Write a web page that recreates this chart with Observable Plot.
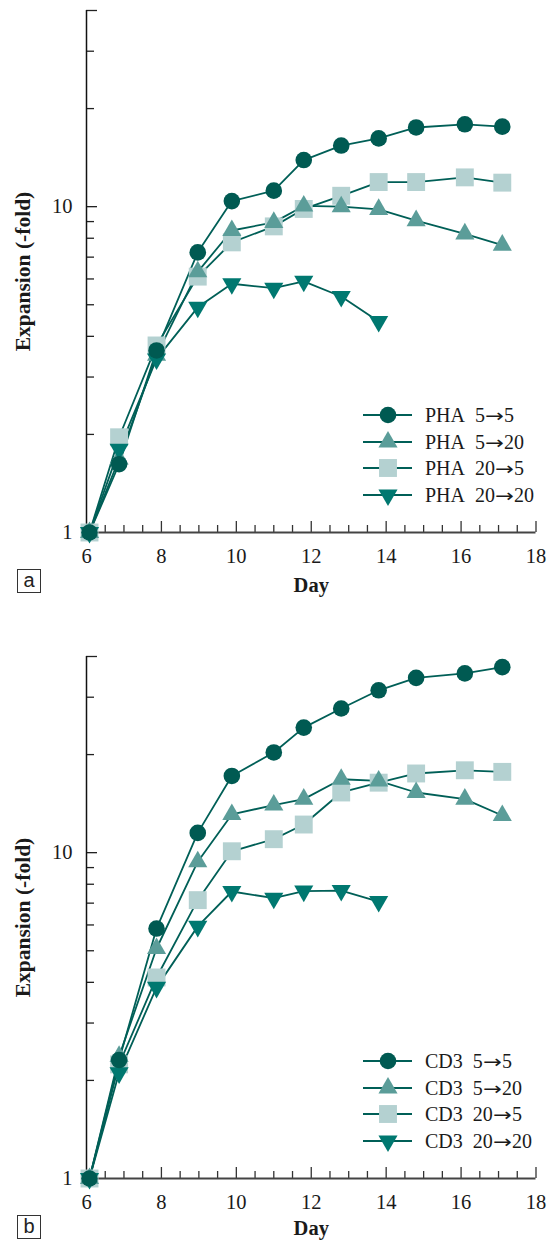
<!DOCTYPE html>
<html>
<head>
<meta charset="utf-8">
<script src="https://cdn.jsdelivr.net/npm/d3@7"></script>
<script src="https://cdn.jsdelivr.net/npm/@observablehq/plot@0.6"></script>
<style>
  html, body { margin: 0; padding: 0; background: #fff; }
  #root { position: relative; width: 547px; height: 1240px; overflow: hidden; font-family: "Liberation Serif", serif; color: #1a1a1a; }
  .panel { position: absolute; left: 0; width: 547px; height: 594px; }
  .panel svg { position: absolute; left: 0; top: 0; }
  .lrow { position: absolute; left: 363px; height: 26px; white-space: pre; }
  .lrow svg { position: absolute; left: 0; top: 0; }
  .lrow span.t { position: absolute; left: 62px; top: 0; line-height: 26px; font-size: 20px; font-family: "Liberation Serif", serif; color: #1a1a1a; }
  .arr { display: inline-block; font-family: "DejaVu Sans", sans-serif; font-size: 18px; transform: scaleX(1.25); margin: 0 2px; }
  .tag { position: absolute; left: 17px; top: 569px; width: 22px; height: 22px; border: 1px solid #333; font-family: "Liberation Sans", sans-serif; font-size: 20px; line-height: 20px; text-align: center; color: #222; box-sizing: content-box; }
</style>
</head>
<body>
<div id="root"></div>
<script>
// ---------- data ----------
const days = [6.08, 6.87, 7.87, 8.97, 9.88, 11.0, 11.8, 12.8, 13.8, 14.8, 16.1, 17.1];

const phaName = "PHA";
const cd3Name = "CD3";
const transitions = [["5", "5"], ["5", "20"], ["20", "5"], ["20", "20"]];

const pha5to5   = [1, 1.62, 3.62, 7.24, 10.4, 11.2, 13.9, 15.4, 16.2, 17.5, 17.9, 17.6];
const pha5to20  = [1, 1.68, 3.5, 6.31, 8.45, 8.95, 10.05, 10.0, 9.81, 9.06, 8.25, 7.62];
const pha20to5  = [1, 1.96, 3.75, 6.1, 7.77, 8.7, 9.84, 10.8, 11.9, 11.9, 12.3, 11.85];
const pha20to20 = [1, 1.8, 3.41, 4.91, 5.8, 5.62, 5.9, 5.3, 4.44];

const cd5to5   = [1, 2.31, 5.85, 11.5, 17.2, 20.3, 24.2, 27.7, 31.5, 34.4, 35.5, 37.1];
const cd5to20  = [1, 2.37, 5.08, 9.38, 13.1, 14.0, 14.6, 16.8, 16.6, 15.3, 14.6, 13.0];
const cd20to5  = [1, 2.24, 4.14, 7.15, 10.1, 11.0, 12.2, 15.3, 16.4, 17.5, 17.9, 17.7];
const cd20to20 = [1, 2.11, 3.86, 5.94, 7.6, 7.25, 7.62, 7.65, 7.08];

const xTickLabels = [6, 8, 10, 12, 14, 16, 18];
const xMinorTicks = d3.range(6.5, 18, 0.5).filter(d => d % 2 !== 0);
const xMajorTicks = [8, 10, 12, 14, 16, 18];
const yTickLabels = [1, 10];
const yMinorTicks = [2, 3, 4, 5, 6, 7, 8, 9, 20, 30];
const yMajorTicks = [10, 40];

// ---------- styles ----------
const FONT = "Liberation Serif";
const colors = ["#005a52", "#5b9d99", "#b4d1d1", "#007870"];
const lineColor = "#005f57";
const triDown = {
  draw(ctx, size) {
    const y = Math.sqrt(size / (Math.sqrt(3) * 3));
    ctx.moveTo(0, y * 2);
    ctx.lineTo(Math.sqrt(3) * y, -y);
    ctx.lineTo(-Math.sqrt(3) * y, -y);
    ctx.closePath();
  }
};
const symbols = ["circle", "triangle", "square", triDown];
const radii = [8.3, 7.1, 10.1, 7.1];
const d3Symbols = [d3.symbolCircle, d3.symbolTriangle, d3.symbolSquare, triDown];
const drawOrder = [2, 1, 3, 0];

const W = 547, H = 594, mL = 86, mR = 11.5, mT = 10, mB = 62;
const innerW = W - mL - mR, innerH = H - mT - mB;

function makePanel(seriesList, name, tag, top, dayDy) {
  const rows = [];
  seriesList.forEach((vals, s) => vals.forEach((v, i) => rows.push({s, day: days[i], v})));

  const marks = [
    Plot.axisX({ticks: xTickLabels, tickSize: 0, tickPadding: 16, tickFormat: d => d, label: null, fontFamily: FONT, fontSize: 20.5}),
    Plot.axisY({ticks: yTickLabels, tickSize: 0, tickPadding: 14, tickFormat: d => d, label: null, fontFamily: FONT, fontSize: 20.5}),
    Plot.tickX(xMinorTicks, {x: d => d, insetTop: innerH - 7, stroke: "#333", strokeWidth: 1.3}),
    Plot.tickX(xMajorTicks, {x: d => d, insetTop: innerH - 11, stroke: "#333", strokeWidth: 1.3}),
    Plot.tickY(yMinorTicks, {y: d => d, insetRight: innerW - 8, stroke: "#222", strokeWidth: 1.3}),
    Plot.tickY(yMajorTicks, {y: d => d, insetRight: innerW - 11, stroke: "#222", strokeWidth: 1.3}),
    Plot.ruleY([1], {stroke: "#444", strokeWidth: 1.8}),
    Plot.ruleX([6], {stroke: "#111", strokeWidth: 1.5}),
    Plot.line(rows, {x: "day", y: "v", z: "s", stroke: lineColor, strokeWidth: 1.8})
  ];
  for (const s of drawOrder) {
    marks.push(Plot.dot(rows.filter(d => d.s === s), {
      x: "day", y: "v", symbol: symbols[s], r: radii[s], fill: colors[s], stroke: "none"
    }));
  }
  marks.push(Plot.text(["Day"], {text: d => d, frameAnchor: "bottom", textAnchor: "middle", dy: dayDy, lineAnchor: "middle", fontWeight: "bold", fontSize: 20.5, fontFamily: FONT}));
  marks.push(Plot.text(["Expansion (-fold)"], {text: d => d, frameAnchor: "left", textAnchor: "middle", dx: -63, rotate: -90, lineAnchor: "middle", fontWeight: "bold", fontSize: 21.5, fontFamily: FONT}));

  const chart = Plot.plot({
    width: W, height: H,
    marginLeft: mL, marginRight: mR, marginTop: mT, marginBottom: mB,
    x: {domain: [6, 18], label: null},
    y: {type: "log", domain: [1, 40], label: null},
    style: {fontFamily: FONT, fontSize: "20px", color: "#1a1a1a", background: "white", overflow: "visible"},
    marks
  });

  const panel = document.createElement("div");
  panel.className = "panel";
  panel.style.top = top + "px";
  panel.appendChild(chart);

  // legend
  transitions.forEach(([a, b], s) => {
    const row = document.createElement("div");
    row.className = "lrow";
    row.style.top = (402 + s * 26.7) + "px";
    const sym = d3.symbol(d3Symbols[s], Math.PI * radii[s] * radii[s])();
    row.innerHTML = `<svg width="52" height="26"><line x1="0" x2="49" y1="13" y2="13" stroke="${lineColor}" stroke-width="2"/>` +
      `<path d="${sym}" transform="translate(25,13)" fill="${colors[s]}"/></svg>` +
      `<span class="t">${name}\u2002${a}<span class="arr">\u2192</span>${b}</span>`;
    panel.appendChild(row);
  });

  const t = document.createElement("div");
  t.className = "tag";
  t.textContent = tag;
  panel.appendChild(t);

  document.getElementById("root").appendChild(panel);
}

makePanel([pha5to5, pha5to20, pha20to5, pha20to20], phaName, "a", 0, 53);
makePanel([cd5to5, cd5to20, cd20to5, cd20to20], cd3Name, "b", 646, 50);
</script>
</body>
</html>
